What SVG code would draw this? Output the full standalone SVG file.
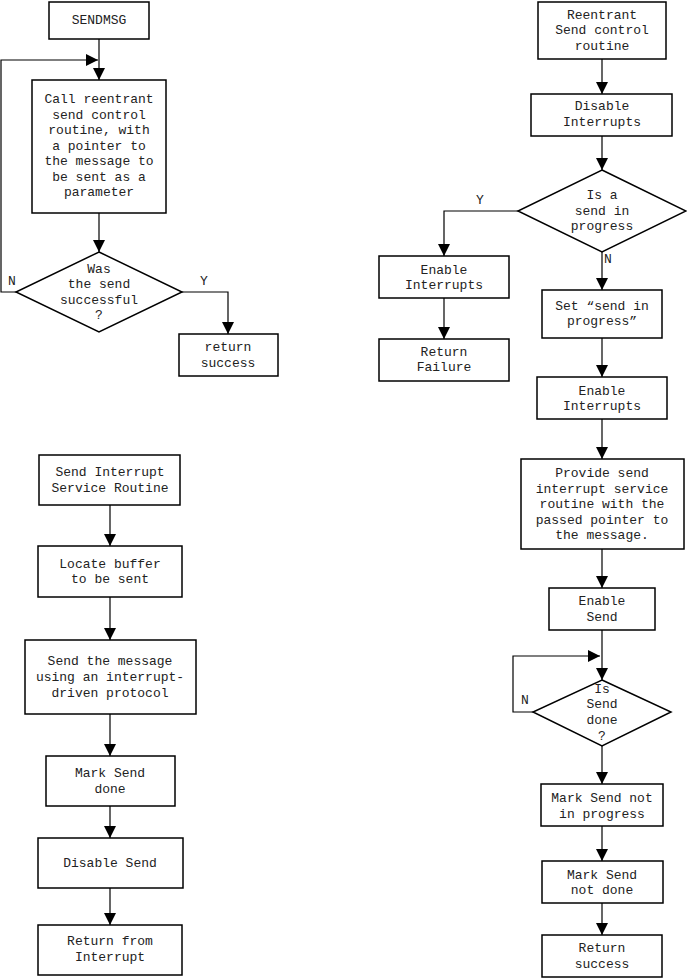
<svg xmlns="http://www.w3.org/2000/svg" width="687" height="978" viewBox="0 0 687 978">
<style>
.b{fill:#fff;stroke:#000;stroke-width:1.5}
text{font-family:"Liberation Mono","DejaVu Sans Mono",monospace;font-size:13px;fill:#222;text-anchor:middle}
.c{fill:none;stroke:#000;stroke-width:1.2}
</style>
<defs><marker id="a" markerUnits="userSpaceOnUse" markerWidth="12" markerHeight="12" refX="12" refY="6" orient="auto"><path d="M0,0L12,6L0,12z" fill="#000"/></marker></defs>
<rect width="687" height="978" fill="#fff"/>
<g id="connectors" class="c">
<path d="M99,39V80" marker-end="url(#a)"/>
<path d="M16,292H1V60H98" marker-end="url(#a)"/>
<path d="M99,213V252" marker-end="url(#a)"/>
<path d="M182,292H228V334" marker-end="url(#a)"/>
<path d="M602,59V94" marker-end="url(#a)"/>
<path d="M602,136V170" marker-end="url(#a)"/>
<path d="M518,211H444V256" marker-end="url(#a)"/>
<path d="M444,298V339" marker-end="url(#a)"/>
<path d="M602,252V290" marker-end="url(#a)"/>
<path d="M602,338V377" marker-end="url(#a)"/>
<path d="M602,419V459" marker-end="url(#a)"/>
<path d="M602,549V588" marker-end="url(#a)"/>
<path d="M602,630V680" marker-end="url(#a)"/>
<path d="M533,712H513V656H600" marker-end="url(#a)"/>
<path d="M602,746V784" marker-end="url(#a)"/>
<path d="M602,826V861" marker-end="url(#a)"/>
<path d="M602,903V935" marker-end="url(#a)"/>
<path d="M110,505V546" marker-end="url(#a)"/>
<path d="M110,597V640" marker-end="url(#a)"/>
<path d="M110,714V756" marker-end="url(#a)"/>
<path d="M110,806V838" marker-end="url(#a)"/>
<path d="M110,888V925" marker-end="url(#a)"/>
</g>
<text x="12" y="285">N</text><text x="204" y="285">Y</text>
<text x="480" y="204">Y</text><text x="608" y="263">N</text>
<text x="525" y="704">N</text>
<g id="sendmsg"><rect class="b" x="49" y="2" width="100" height="37"/><text x="99" y="24">SENDMSG</text></g>
<g id="call"><rect class="b" x="32" y="80" width="134" height="133"/><text x="99" y="103">Call reentrant</text><text x="99" y="119">send control</text><text x="99" y="134">routine, with</text><text x="99" y="150">a pointer to</text><text x="99" y="165">the message to</text><text x="99" y="181">be sent as a</text><text x="99" y="196">parameter</text></g>
<g id="was"><path class="b" d="M99,252L182,292L99,332L16,292z"/><text x="99" y="273">Was</text><text x="99" y="288">the send</text><text x="99" y="304">successful</text><text x="99" y="319">?</text></g>
<g id="retsucc1"><rect class="b" x="179" y="334" width="99" height="42"/><text x="228" y="351">return</text><text x="228" y="367">success</text></g>
<g id="reentrant"><rect class="b" x="538" y="2" width="128" height="57"/><text x="602" y="19">Reentrant</text><text x="602" y="34">Send control</text><text x="602" y="50">routine</text></g>
<g id="disint"><rect class="b" x="531" y="94" width="141" height="42"/><text x="602" y="110">Disable</text><text x="602" y="126">Interrupts</text></g>
<g id="inprog"><path class="b" d="M602,170L686,211L602,252L518,211z"/><text x="602" y="199">Is a</text><text x="602" y="215">send in</text><text x="602" y="230">progress</text></g>
<g id="enint1"><rect class="b" x="379" y="256" width="130" height="42"/><text x="444" y="274">Enable</text><text x="444" y="289">Interrupts</text></g>
<g id="retfail"><rect class="b" x="379" y="339" width="130" height="42"/><text x="444" y="356">Return</text><text x="444" y="371">Failure</text></g>
<g id="setprog"><rect class="b" x="542" y="290" width="120" height="48"/><text x="602" y="310">Set “send in</text><text x="602" y="325">progress”</text></g>
<g id="enint2"><rect class="b" x="537" y="377" width="130" height="42"/><text x="602" y="395">Enable</text><text x="602" y="410">Interrupts</text></g>
<g id="provide"><rect class="b" x="521" y="459" width="163" height="90"/><text x="602" y="477">Provide send</text><text x="602" y="493">interrupt service</text><text x="602" y="508">routine with the</text><text x="602" y="524">passed pointer to</text><text x="602" y="539">the message.</text></g>
<g id="ensend"><rect class="b" x="549" y="588" width="106" height="42"/><text x="602" y="605">Enable</text><text x="602" y="621">Send</text></g>
<g id="done"><path class="b" d="M602,680L671,712L602,746L533,712z"/><text x="602" y="693">Is</text><text x="602" y="708">Send</text><text x="602" y="724">done</text><text x="602" y="740">?</text></g>
<g id="marknotprog"><rect class="b" x="541" y="784" width="122" height="42"/><text x="602" y="802">Mark Send not</text><text x="602" y="818">in progress</text></g>
<g id="marknotdone"><rect class="b" x="542" y="861" width="121" height="42"/><text x="602" y="879">Mark Send</text><text x="602" y="894">not done</text></g>
<g id="retsucc2"><rect class="b" x="542" y="935" width="120" height="42"/><text x="602" y="952">Return</text><text x="602" y="968">success</text></g>
<g id="isr"><rect class="b" x="39" y="455" width="141" height="50"/><text x="110" y="476">Send Interrupt</text><text x="110" y="492">Service Routine</text></g>
<g id="locate"><rect class="b" x="38" y="546" width="144" height="51"/><text x="110" y="568">Locate buffer</text><text x="110" y="583">to be sent</text></g>
<g id="sendmsg2"><rect class="b" x="25" y="640" width="171" height="74"/><text x="110" y="665">Send the message</text><text x="110" y="681">using an interrupt-</text><text x="110" y="697">driven protocol</text></g>
<g id="markdone"><rect class="b" x="46" y="756" width="129" height="50"/><text x="110" y="777">Mark Send</text><text x="110" y="793">done</text></g>
<g id="dissend"><rect class="b" x="38" y="838" width="145" height="50"/><text x="110" y="867">Disable Send</text></g>
<g id="retint"><rect class="b" x="38" y="925" width="144" height="50"/><text x="110" y="945">Return from</text><text x="110" y="961">Interrupt</text></g>
</svg>
